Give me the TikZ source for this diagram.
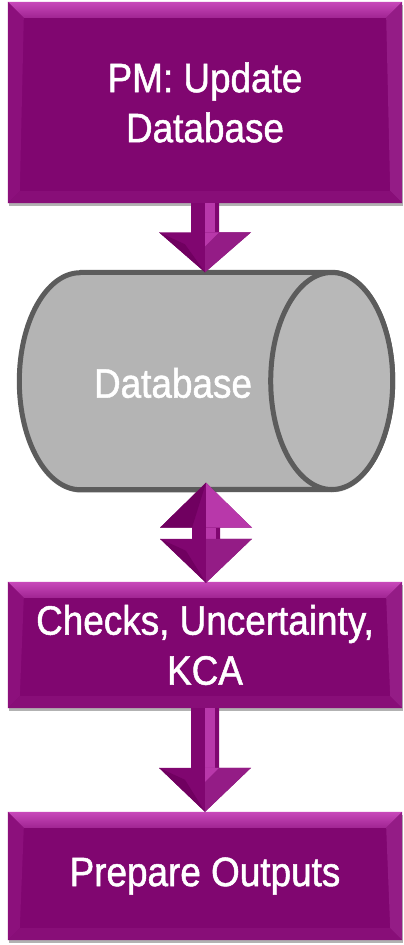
\documentclass[tikz,border=0pt]{standalone}
\usepackage{fontspec}
\newfontfamily\narrowfont{Liberation Sans}[FakeStretch=0.9, FakeBold=1.2]
\usetikzlibrary{calc,shadows}
\definecolor{pmain}{RGB}{128,6,112}
\definecolor{ptop}{RGB}{200,72,186}
\definecolor{ptopb}{RGB}{160,36,146}
\definecolor{pleft}{RGB}{140,16,124}
\definecolor{pright}{RGB}{148,28,134}
\definecolor{pbot}{RGB}{136,14,120}
\definecolor{plite}{RGB}{184,56,170}
\definecolor{pdark}{RGB}{112,0,96}
\definecolor{dbfill}{RGB}{180,180,180}
\definecolor{dbend}{RGB}{184,184,184}
\definecolor{dbline}{RGB}{92,92,92}
\tikzset{
  stepbox/.style={rectangle, fill=pmain, minimum width=394pt, inner sep=0pt,
    text=white, align=center, font=\narrowfont\fontsize{41}{50}\selectfont,
    drop shadow={shadow xshift=1pt, shadow yshift=-3pt, opacity=0.3, fill=black}},
  dblabel/.style={text=white, inner sep=0pt, font=\narrowfont\fontsize{41}{50}\selectfont},
  cylpart/.style={draw=dbline, line width=5pt, line join=round},
  dbframe/.style={rectangle, inner sep=0pt, minimum width=373pt, minimum height=217pt},
}
\newcommand\bevelbox[1]{%
  \shade[top color=ptop, bottom color=ptopb] (#1.north west) -- (#1.north east) -- ($(#1.north east)+(-16,16)$) -- ($(#1.north west)+(16,16)$) -- cycle;
  \fill[pleft] (#1.north west) -- ($(#1.north west)+(16,16)$) -- ($(#1.south west)+(12,-12)$) -- (#1.south west) -- cycle;
  \fill[pright] (#1.north east) -- ($(#1.north east)+(-16,16)$) -- ($(#1.south east)+(-12,-12)$) -- (#1.south east) -- cycle;
  \fill[pbot] (#1.south west) -- ($(#1.south west)+(12,-12)$) -- ($(#1.south east)+(-12,-12)$) -- (#1.south east) -- cycle;
}
% #1 start point, #2 tip point, #3 head length
\newcommand\blockdown[3]{%
  \fill[pmain] ($(#1)+(-14,0)$) -- ($(#1)+(14,0)$) -- ($(#1 |- #2)+(14,-#3)$) -- ($(#1 |- #2)+(46,-#3)$)
    -- (#1 |- #2) -- ($(#1 |- #2)+(-46,-#3)$) -- ($(#1 |- #2)+(-14,-#3)$) -- cycle;
  \fill[plite] ($(#1)+(0,0)$) -- ($(#1)+(10,0)$) -- ($(#1 |- #2)+(10,-#3)$) -- ($(#1 |- #2)+(0,-#3)$) -- cycle;
  \fill[pright] ($(#1 |- #2)+(0,-#3)$) -- ($(#1 |- #2)+(46,-#3)$) -- (#1 |- #2) -- cycle;
  \fill[plite] ($(#1 |- #2)+(0,-#3)$) -- ($(#1 |- #2)+(14,-#3)$) -- ($(#1 |- #2)+(0,-#3+14)$) -- cycle;
  \fill[pdark] ($(#1 |- #2)+(-46,-#3)$) -- ($(#1 |- #2)+(-20,-#3+12)$) -- (#1 |- #2) -- cycle;
}
\begin{document}
\begin{tikzpicture}[x=1pt, y=-1pt]
\useasboundingbox (0,0) rectangle (404,945);
\fill[white] (0,0) rectangle (404,945);

% boxes
\node[stepbox, minimum height=201pt] (b1) at (205,102.5) {PM: Update\\Database};
\bevelbox{b1}
\node[stepbox, minimum height=126pt] (b2) at (205,645) {Checks, Uncertainty,\\KCA};
\bevelbox{b2}
\node[stepbox, minimum height=128pt] (b3) at (205,876) {Prepare Outputs};
\bevelbox{b3}

% database cylinder
\node[dbframe] (db) at (206,381) {};
\filldraw[cylpart, fill=dbfill, drop shadow={shadow xshift=1pt, shadow yshift=-3pt, opacity=0.25, fill=black}]
  ($(db.north west)+(61,0)$) -- ($(db.north east)+(-61,0)$)
  arc[start angle=90, end angle=-90, x radius=61pt, y radius=108.5pt]
  -- ($(db.south west)+(61,0)$)
  arc[start angle=270, end angle=90, x radius=61pt, y radius=108.5pt] -- cycle;
\filldraw[cylpart, fill=dbend] ($(db.east)+(-61,0)$) ellipse[x radius=61pt, y radius=108.5pt];
\node[dblabel] (dbt) at ($(db.center)+(-33,2)$) {Database};

% arrows
\blockdown{b1.south}{db.north}{40}
\blockdown{b2.south}{b3.north}{44}

% double arrow between database and checks
\coordinate (dup) at ($(db.south)+(0,-7)$);
\coordinate (ddn) at ($(b2.north)+(1,1)$);
\fill[pmain] (dup) -- ($(dup)+(46,45)$) -- ($(dup)+(14,45)$) -- ($(dup |- ddn)+(14,-44)$) -- ($(dup |- ddn)+(46,-44)$)
  -- (dup |- ddn) -- ($(dup |- ddn)+(-46,-44)$) -- ($(dup |- ddn)+(-14,-44)$) -- ($(dup)+(-14,45)$) -- ($(dup)+(-46,45)$) -- cycle;
\fill[plite] (dup) -- ($(dup)+(46,45)$) -- ($(dup)+(0,45)$) -- cycle;
\fill[pdark] (dup) -- ($(dup)+(-46,45)$) -- ($(dup)+(-14,45)$) -- cycle;
\fill[plite] ($(dup)+(0,45)$) -- ($(dup)+(10,45)$) -- ($(dup |- ddn)+(10,-44)$) -- ($(dup |- ddn)+(0,-44)$) -- cycle;
\fill[pright] ($(dup |- ddn)+(0,-44)$) -- ($(dup |- ddn)+(46,-44)$) -- (dup |- ddn) -- cycle;
\fill[pdark] ($(dup |- ddn)+(-46,-44)$) -- ($(dup |- ddn)+(-20,-32)$) -- (dup |- ddn) -- cycle;
\end{tikzpicture}
\end{document}
